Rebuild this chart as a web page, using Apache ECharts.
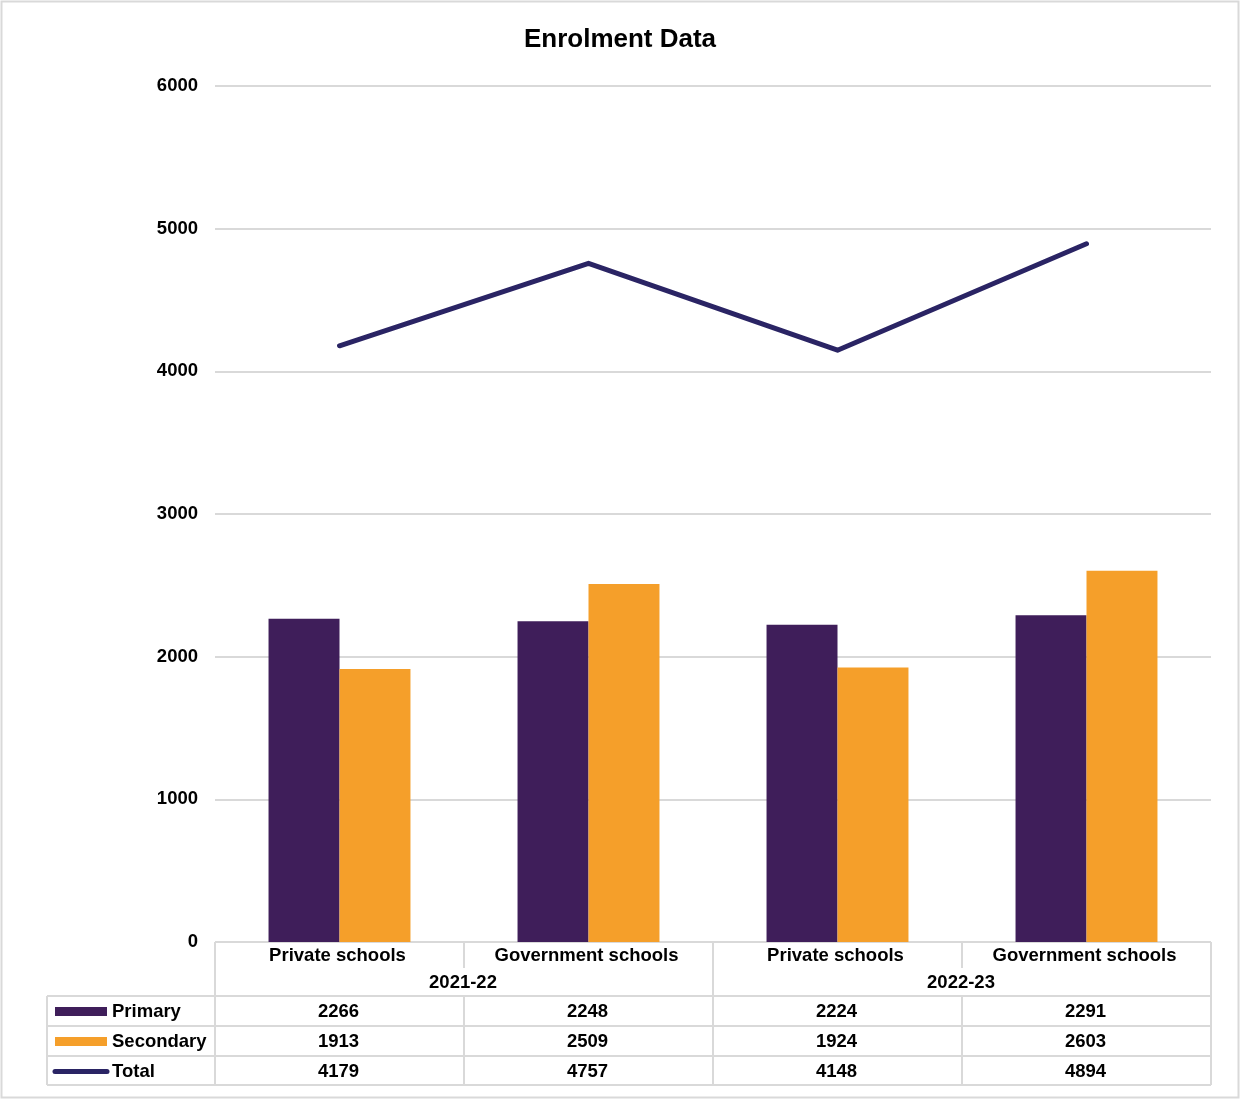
<!DOCTYPE html>
<html>
<head>
<meta charset="utf-8">
<script src="https://cdn.jsdelivr.net/npm/echarts@6/dist/echarts.min.js"></script>
<style>
  html, body { margin: 0; padding: 0; background: #ffffff; }
  #chart { width: 1240px; height: 1099px; }
</style>
</head>
<body>
<div id="chart"></div>
<script>
// Enrolment figures by school type and academic year
const categories = ['Private schools', 'Government schools', 'Private schools', 'Government schools'];
const years = ['2021-22', '2022-23'];
const primary = [2266, 2248, 2224, 2291];
const secondary = [1913, 2509, 1924, 2603];
const total = [4179, 4757, 4148, 4894];
const seriesNames = ['Primary', 'Secondary', 'Total'];

const COLORS = { primary: '#3f1e5a', secondary: '#f59f2a', total: '#2a2464' };
const FONT = '"Liberation Sans", Arial, sans-serif';
const FONT_SIZE = 18.5;
const GRID_LINE = '#d9d9d9';

const W = 1240, H = 1099;
const GRID = { left: 215, right: 29, top: 86, bottom: 157 };

const chart = echarts.init(document.getElementById('chart'), null, { renderer: 'canvas' });

// Data table under the plot: column edges follow the grid's category bands
const plotLeft = GRID.left, plotRight = W - GRID.right, axisY = H - GRID.bottom;
const colW = (plotRight - plotLeft) / categories.length;
const legendLeft = 47;
const rowTop = [axisY, 968, 996, 1026, 1056, 1085];
const tableRows = [
  { name: seriesNames[0], values: primary, key: 'bar', color: COLORS.primary },
  { name: seriesNames[1], values: secondary, key: 'bar', color: COLORS.secondary },
  { name: seriesNames[2], values: total, key: 'line', color: COLORS.total }
];

function tableGraphics() {
  const g = [];
  const ls = { stroke: GRID_LINE, lineWidth: 2 };
  const line = (x1, y1, x2, y2) => g.push({ type: 'line', silent: true, shape: { x1, y1, x2, y2 }, style: ls });
  const text = (x, y, t, align) => g.push({
    type: 'text', silent: true, x, y,
    style: { text: t, font: 'bold ' + FONT_SIZE + 'px ' + FONT, fill: '#000', align: align || 'center', verticalAlign: 'middle' }
  });

  // horizontal rules
  line(plotLeft, rowTop[0], plotRight, rowTop[0]);
  for (let r = 2; r < rowTop.length; r++) line(legendLeft, rowTop[r], plotRight, rowTop[r]);
  // vertical rules
  line(legendLeft, rowTop[2], legendLeft, rowTop[5]);
  for (let c = 0; c <= categories.length; c++) {
    const x = plotLeft + c * colW;
    if (c % 2 === 1) {
      line(x, rowTop[0], x, rowTop[1]);
      line(x, rowTop[2], x, rowTop[5]);
    } else {
      line(x, rowTop[0], x, rowTop[5]);
    }
  }
  // category and year headers
  categories.forEach((c, i) => text(plotLeft + (i + 0.5) * colW - 2, 956, c));
  years.forEach((y, i) => text(plotLeft + (i + 0.5) * 2 * colW - 1, 983, y));
  // series rows
  tableRows.forEach((row, r) => {
    const cy = (rowTop[r + 2] + rowTop[r + 3]) / 2 + 1;
    if (row.key === 'bar') {
      g.push({ type: 'rect', silent: true, shape: { x: 55, y: cy - 5, width: 52, height: 9 }, style: { fill: row.color } });
    } else {
      g.push({ type: 'line', silent: true, shape: { x1: 55, y1: cy, x2: 107, y2: cy },
        style: { stroke: row.color, lineWidth: 5, lineCap: 'round' } });
    }
    text(112, cy, row.name, 'left');
    row.values.forEach((v, i) => text(plotLeft + (i + 0.5) * colW - 1, cy, String(v)));
  });
  // outer chart border
  g.push({ type: 'rect', silent: true, shape: { x: 1.5, y: 1.5, width: W - 3, height: H - 3 },
    style: { fill: 'none', stroke: GRID_LINE, lineWidth: 2 } });
  return g;
}

chart.setOption({
  animation: false,
  backgroundColor: '#ffffff',
  title: {
    text: 'Enrolment Data',
    left: 'center',
    top: 22,
    textStyle: { fontFamily: FONT, fontWeight: 'bold', fontSize: 26, color: '#000' }
  },
  grid: { left: GRID.left, right: GRID.right, top: GRID.top, bottom: GRID.bottom, containLabel: false },
  xAxis: {
    type: 'category',
    data: categories,
    axisLine: { show: false },
    axisTick: { show: false },
    axisLabel: { show: false }
  },
  yAxis: {
    type: 'value',
    min: 0,
    max: 6000,
    interval: 1000,
    axisLine: { show: false },
    axisTick: { show: false },
    axisLabel: {
      margin: 17, fontFamily: FONT, fontWeight: 'bold', fontSize: FONT_SIZE, color: '#000',
      formatter: (v) => String(v)
    },
    splitLine: { lineStyle: { color: GRID_LINE, width: 2 } }
  },
  series: [
    {
      name: seriesNames[0], type: 'bar', data: primary,
      barWidth: '28.5%', barGap: '0%',
      itemStyle: { color: COLORS.primary }
    },
    {
      name: seriesNames[1], type: 'bar', data: secondary,
      barWidth: '28.5%', barGap: '0%',
      itemStyle: { color: COLORS.secondary }
    },
    {
      name: seriesNames[2], type: 'line', data: total,
      showSymbol: false, symbol: 'none',
      lineStyle: { color: COLORS.total, width: 5, cap: 'round', join: 'round' },
      z: 5
    }
  ],
  graphic: tableGraphics()
});
</script>
</body>
</html>
